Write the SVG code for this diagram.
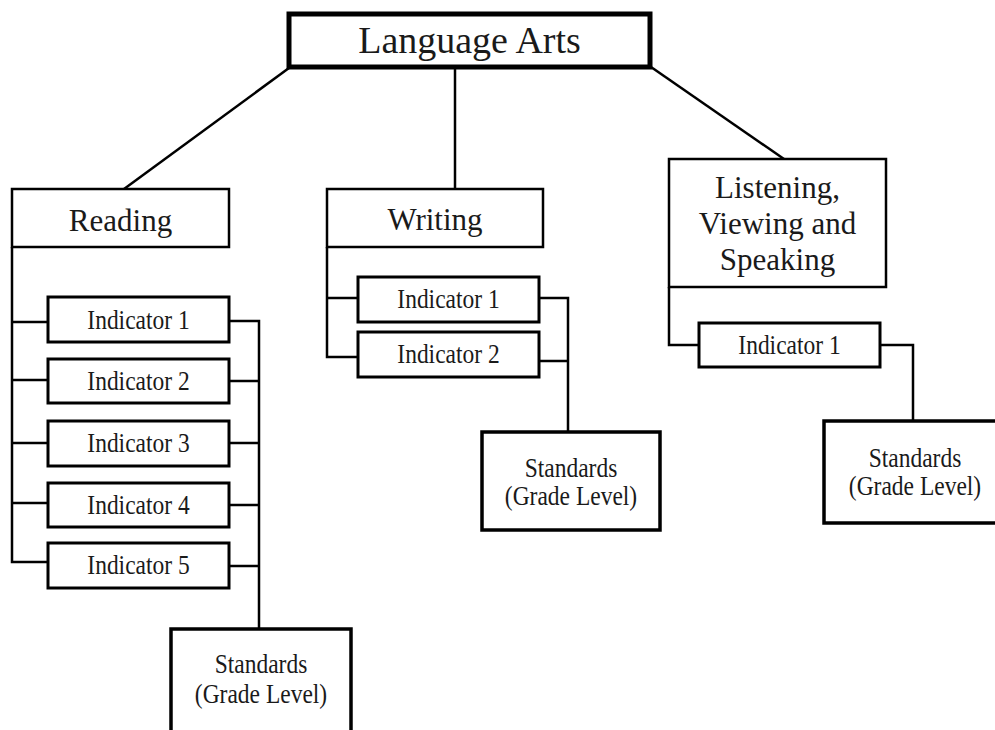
<svg xmlns="http://www.w3.org/2000/svg" width="995" height="730" viewBox="0 0 995 730">
<style>
.bx{fill:#fff;stroke:#000}
.b1{stroke-width:5}
.b2{stroke-width:2.5}
.b3{stroke-width:3}
.b4{stroke-width:3.5}
.c{fill:none;stroke:#000;stroke-width:2.5}
text{fill:#1a1a1a;text-anchor:middle}
.t1{font-size:38px}
.t2{font-size:31px}
.t3{font-size:23.5px}
</style>
<rect width="995" height="730" fill="#fff"/>
<g id="connectors">
<path class="c" d="M289,68 L124,189"/>
<path class="c" d="M455,67 V189"/>
<path class="c" d="M651,67 L784,159"/>
<path class="c" d="M12,247 V562 H48 M12,322 H48 M12,380 H48 M12,443 H48 M12,503 H48"/>
<path class="c" d="M229,321 H259 V629 M229,381 H259 M229,443 H259 M229,505 H259 M229,566 H259"/>
<path class="c" d="M327,247 V357 H358 M327,298 H358"/>
<path class="c" d="M539,298 H568 V432 M539,361 H568"/>
<path class="c" d="M669,287 V345 H699"/>
<path class="c" d="M880,345 H913 V421"/>
</g>
<g font-family="Liberation Serif, Tinos, DejaVu Serif, serif">
<g id="language-arts">
<rect class="bx b1" x="289" y="14" width="361" height="53"/>
<text class="t1" x="469.5" y="53">Language Arts</text>
</g>
<g id="reading">
<rect class="bx b2" x="12" y="189" width="217" height="58"/>
<text class="t2" x="120.5" y="231">Reading</text>
</g>
<g id="writing">
<rect class="bx b2" x="327" y="189" width="216" height="58"/>
<text class="t2" x="435" y="230">Writing</text>
</g>
<g id="listening">
<rect class="bx b2" x="669" y="159" width="217" height="128"/>
<text class="t2" x="777.5" y="198">Listening,</text>
<text class="t2" x="777.5" y="234">Viewing and</text>
<text class="t2" x="777.5" y="270">Speaking</text>
</g>
<g id="reading-ind1">
<rect class="bx b3" x="48" y="297" width="181" height="45"/>
<text class="t3" transform="translate(138.5,329) scale(1,1.2)">Indicator 1</text>
</g>
<g id="reading-ind2">
<rect class="bx b3" x="48" y="359" width="181" height="44"/>
<text class="t3" transform="translate(138.5,390) scale(1,1.2)">Indicator 2</text>
</g>
<g id="reading-ind3">
<rect class="bx b3" x="48" y="421" width="181" height="45"/>
<text class="t3" transform="translate(138.5,452) scale(1,1.2)">Indicator 3</text>
</g>
<g id="reading-ind4">
<rect class="bx b3" x="48" y="483" width="181" height="44"/>
<text class="t3" transform="translate(138.5,514) scale(1,1.2)">Indicator 4</text>
</g>
<g id="reading-ind5">
<rect class="bx b3" x="48" y="543" width="181" height="45"/>
<text class="t3" transform="translate(138.5,574) scale(1,1.2)">Indicator 5</text>
</g>
<g id="reading-standards">
<rect class="bx b4" x="171" y="629" width="180" height="110"/>
<text class="t3" transform="translate(261,673) scale(1,1.15)">Standards</text>
<text class="t3" transform="translate(261,703) scale(1,1.15)">(Grade Level)</text>
</g>
<g id="writing-ind1">
<rect class="bx b3" x="358" y="277" width="181" height="45"/>
<text class="t3" transform="translate(448.5,308) scale(1,1.2)">Indicator 1</text>
</g>
<g id="writing-ind2">
<rect class="bx b3" x="358" y="332" width="181" height="45"/>
<text class="t3" transform="translate(448.5,363) scale(1,1.2)">Indicator 2</text>
</g>
<g id="writing-standards">
<rect class="bx b4" x="482" y="432" width="178" height="98"/>
<text class="t3" transform="translate(571,477) scale(1,1.15)">Standards</text>
<text class="t3" transform="translate(571,505) scale(1,1.15)">(Grade Level)</text>
</g>
<g id="lvs-ind1">
<rect class="bx b3" x="699" y="323" width="181" height="44"/>
<text class="t3" transform="translate(789.5,354) scale(1,1.2)">Indicator 1</text>
</g>
<g id="lvs-standards">
<rect class="bx b4" x="824" y="421" width="180" height="102"/>
<text class="t3" transform="translate(915,467) scale(1,1.15)">Standards</text>
<text class="t3" transform="translate(915,495) scale(1,1.15)">(Grade Level)</text>
</g>
</g>
</svg>
